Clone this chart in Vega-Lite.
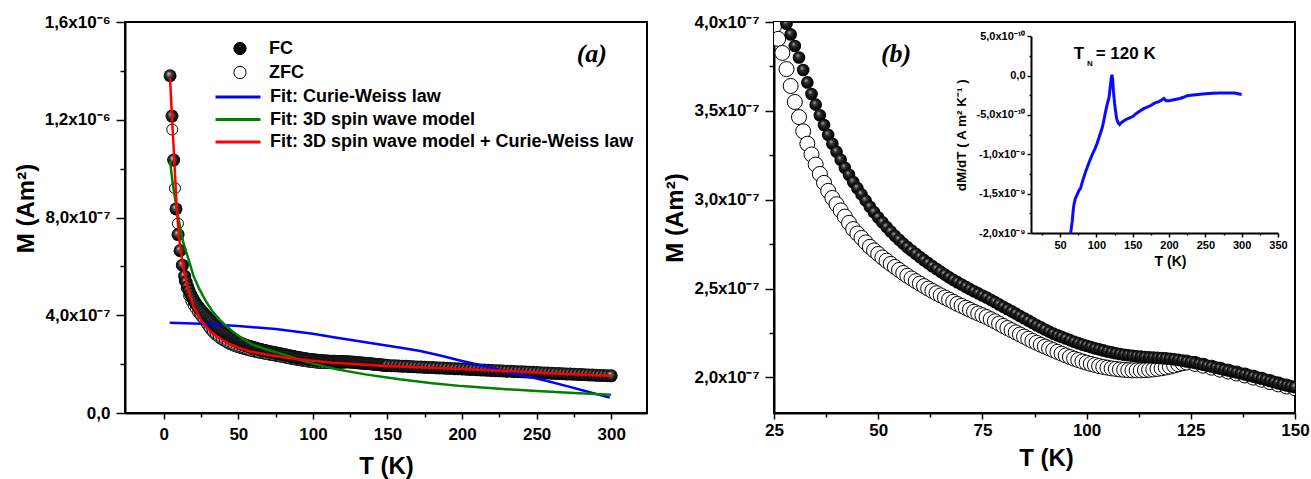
{
"$schema": "https://vega.github.io/schema/vega-lite/v6.json",
"padding": {"left": 13, "top": 12, "right": 2, "bottom": 0},
"background": "white",
"config": {
  "font": "Liberation Sans",
  "view": {"stroke": "black", "strokeWidth": 2},
  "axis": {"grid": false, "domainColor": "black", "domainWidth": 2, "tickColor": "black", "tickWidth": 1.5, "labelColor": "black", "titleColor": "black", "labelFont": "Liberation Sans", "labelFontWeight": "bold", "labelFontSize": 17, "titleFont": "Liberation Sans", "titleFontWeight": "bold", "titleFontSize": 24, "labelFlush": false, "labelOverlap": false, "labelBound": false},
  "legend": {"labelFont": "Liberation Sans", "labelFontWeight": "bold", "labelFontSize": 18, "labelColor": "black", "padding": 0, "labelLimit": 600}
},
"datasets": {
  "m": [
    {"s":"FC","T":4.2,"M":13.8e-7},{"s":"FC","T":5.5,"M":12.15e-7},{"s":"FC","T":6.6,"M":10.35e-7},{"s":"FC","T":8.2,"M":8.35e-7},{"s":"FC","T":9.6,"M":7.3e-7},{"s":"FC","T":11,"M":6.65e-7},{"s":"FC","T":12.5,"M":6.05e-7},{"s":"FC","T":14,"M":5.6e-7},{"s":"FC","T":15,"M":5.36e-7},{"s":"FC","T":16,"M":5.17e-7},{"s":"FC","T":17,"M":5.0e-7},{"s":"FC","T":18,"M":4.86e-7},{"s":"FC","T":19,"M":4.73e-7},{"s":"FC","T":20,"M":4.62e-7},{"s":"FC","T":21,"M":4.52e-7},{"s":"FC","T":22,"M":4.43e-7},{"s":"FC","T":23,"M":4.35e-7},{"s":"FC","T":24,"M":4.27e-7},{"s":"FC","T":25,"M":4.2e-7},{"s":"FC","T":26,"M":4.13e-7},{"s":"FC","T":27,"M":4.06e-7},{"s":"FC","T":28,"M":3.99e-7},{"s":"FC","T":29,"M":3.93e-7},{"s":"FC","T":30,"M":3.865e-7},{"s":"FC","T":31,"M":3.8e-7},{"s":"FC","T":32,"M":3.73e-7},{"s":"FC","T":33,"M":3.66e-7},{"s":"FC","T":34,"M":3.595e-7},{"s":"FC","T":35,"M":3.535e-7},{"s":"FC","T":36,"M":3.475e-7},{"s":"FC","T":37,"M":3.42e-7},{"s":"FC","T":38,"M":3.365e-7},{"s":"FC","T":39,"M":3.315e-7},{"s":"FC","T":40,"M":3.27e-7},{"s":"FC","T":41,"M":3.225e-7},{"s":"FC","T":42,"M":3.18e-7},{"s":"FC","T":43,"M":3.14e-7},{"s":"FC","T":44,"M":3.1e-7},{"s":"FC","T":45,"M":3.065e-7},{"s":"FC","T":46,"M":3.03e-7},{"s":"FC","T":47,"M":2.995e-7},{"s":"FC","T":48,"M":2.96e-7},{"s":"FC","T":49,"M":2.93e-7},{"s":"FC","T":50,"M":2.9e-7},{"s":"FC","T":51,"M":2.873e-7},{"s":"FC","T":52,"M":2.846e-7},{"s":"FC","T":53,"M":2.821e-7},{"s":"FC","T":54,"M":2.797e-7},{"s":"FC","T":55,"M":2.775e-7},{"s":"FC","T":56,"M":2.753e-7},{"s":"FC","T":57,"M":2.733e-7},{"s":"FC","T":58,"M":2.714e-7},{"s":"FC","T":59,"M":2.696e-7},{"s":"FC","T":60,"M":2.678e-7},{"s":"FC","T":61,"M":2.66e-7},{"s":"FC","T":62,"M":2.643e-7},{"s":"FC","T":63,"M":2.626e-7},{"s":"FC","T":64,"M":2.61e-7},{"s":"FC","T":65,"M":2.594e-7},{"s":"FC","T":66,"M":2.579e-7},{"s":"FC","T":67,"M":2.564e-7},{"s":"FC","T":68,"M":2.55e-7},{"s":"FC","T":69,"M":2.536e-7},{"s":"FC","T":70,"M":2.523e-7},{"s":"FC","T":71,"M":2.51e-7},{"s":"FC","T":72,"M":2.497e-7},{"s":"FC","T":73,"M":2.485e-7},{"s":"FC","T":74,"M":2.473e-7},{"s":"FC","T":75,"M":2.461e-7},{"s":"FC","T":76,"M":2.45e-7},{"s":"FC","T":77,"M":2.437e-7},{"s":"FC","T":78,"M":2.424e-7},{"s":"FC","T":79,"M":2.411e-7},{"s":"FC","T":80,"M":2.398e-7},{"s":"FC","T":81,"M":2.385e-7},{"s":"FC","T":82,"M":2.372e-7},{"s":"FC","T":83,"M":2.359e-7},{"s":"FC","T":84,"M":2.346e-7},{"s":"FC","T":85,"M":2.333e-7},{"s":"FC","T":86,"M":2.32e-7},{"s":"FC","T":87,"M":2.307e-7},{"s":"FC","T":88,"M":2.294e-7},{"s":"FC","T":89,"M":2.282e-7},{"s":"FC","T":90,"M":2.27e-7},{"s":"FC","T":91,"M":2.258e-7},{"s":"FC","T":92,"M":2.247e-7},{"s":"FC","T":93,"M":2.237e-7},{"s":"FC","T":94,"M":2.228e-7},{"s":"FC","T":95,"M":2.219e-7},{"s":"FC","T":96,"M":2.21e-7},{"s":"FC","T":97,"M":2.201e-7},{"s":"FC","T":98,"M":2.193e-7},{"s":"FC","T":99,"M":2.185e-7},{"s":"FC","T":100,"M":2.178e-7},{"s":"FC","T":101,"M":2.171e-7},{"s":"FC","T":102,"M":2.164e-7},{"s":"FC","T":103,"M":2.158e-7},{"s":"FC","T":104,"M":2.152e-7},{"s":"FC","T":105,"M":2.146e-7},{"s":"FC","T":106,"M":2.141e-7},{"s":"FC","T":107,"M":2.136e-7},{"s":"FC","T":108,"M":2.132e-7},{"s":"FC","T":109,"M":2.128e-7},{"s":"FC","T":110,"M":2.125e-7},{"s":"FC","T":111,"M":2.122e-7},{"s":"FC","T":112,"M":2.119e-7},{"s":"FC","T":113,"M":2.117e-7},{"s":"FC","T":114,"M":2.115e-7},{"s":"FC","T":115,"M":2.113e-7},{"s":"FC","T":116,"M":2.112e-7},{"s":"FC","T":117,"M":2.111e-7},{"s":"FC","T":118,"M":2.109e-7},{"s":"FC","T":119,"M":2.107e-7},{"s":"FC","T":120,"M":2.105e-7},{"s":"FC","T":121,"M":2.102e-7},{"s":"FC","T":122,"M":2.099e-7},{"s":"FC","T":123,"M":2.095e-7},{"s":"FC","T":124,"M":2.09e-7},{"s":"FC","T":125,"M":2.086e-7},{"s":"FC","T":126,"M":2.082e-7},{"s":"FC","T":127,"M":2.077e-7},{"s":"FC","T":128,"M":2.072e-7},{"s":"FC","T":129,"M":2.066e-7},{"s":"FC","T":130,"M":2.061e-7},{"s":"FC","T":131,"M":2.055e-7},{"s":"FC","T":132,"M":2.05e-7},{"s":"FC","T":133,"M":2.044e-7},{"s":"FC","T":134,"M":2.039e-7},{"s":"FC","T":135,"M":2.033e-7},{"s":"FC","T":136,"M":2.028e-7},{"s":"FC","T":137,"M":2.022e-7},{"s":"FC","T":138,"M":2.017e-7},{"s":"FC","T":139,"M":2.011e-7},{"s":"FC","T":140,"M":2.005e-7},{"s":"FC","T":141,"M":1.999e-7},{"s":"FC","T":142,"M":1.993e-7},{"s":"FC","T":143,"M":1.987e-7},{"s":"FC","T":144,"M":1.98e-7},{"s":"FC","T":145,"M":1.974e-7},{"s":"FC","T":146,"M":1.967e-7},{"s":"FC","T":147,"M":1.961e-7},{"s":"FC","T":148,"M":1.955e-7},{"s":"FC","T":149,"M":1.95e-7},{"s":"FC","T":150,"M":1.945e-7},{"s":"FC","T":152.5,"M":1.938e-7},{"s":"FC","T":155,"M":1.93e-7},{"s":"FC","T":157.5,"M":1.923e-7},{"s":"FC","T":160,"M":1.915e-7},{"s":"FC","T":162.5,"M":1.908e-7},{"s":"FC","T":165,"M":1.9e-7},{"s":"FC","T":167.5,"M":1.893e-7},{"s":"FC","T":170,"M":1.885e-7},{"s":"FC","T":172.5,"M":1.878e-7},{"s":"FC","T":175,"M":1.87e-7},{"s":"FC","T":177.5,"M":1.864e-7},{"s":"FC","T":180,"M":1.857e-7},{"s":"FC","T":182.5,"M":1.85e-7},{"s":"FC","T":185,"M":1.843e-7},{"s":"FC","T":187.5,"M":1.837e-7},{"s":"FC","T":190,"M":1.83e-7},{"s":"FC","T":192.5,"M":1.822e-7},{"s":"FC","T":195,"M":1.815e-7},{"s":"FC","T":197.5,"M":1.808e-7},{"s":"FC","T":200,"M":1.8e-7},{"s":"FC","T":202.5,"M":1.793e-7},{"s":"FC","T":205,"M":1.785e-7},{"s":"FC","T":207.5,"M":1.778e-7},{"s":"FC","T":210,"M":1.77e-7},{"s":"FC","T":212.5,"M":1.763e-7},{"s":"FC","T":215,"M":1.755e-7},{"s":"FC","T":217.5,"M":1.748e-7},{"s":"FC","T":220,"M":1.74e-7},{"s":"FC","T":222.5,"M":1.733e-7},{"s":"FC","T":225,"M":1.725e-7},{"s":"FC","T":227.5,"M":1.718e-7},{"s":"FC","T":230,"M":1.71e-7},{"s":"FC","T":232.5,"M":1.704e-7},{"s":"FC","T":235,"M":1.697e-7},{"s":"FC","T":237.5,"M":1.69e-7},{"s":"FC","T":240,"M":1.683e-7},{"s":"FC","T":242.5,"M":1.677e-7},{"s":"FC","T":245,"M":1.67e-7},{"s":"FC","T":247.5,"M":1.663e-7},{"s":"FC","T":250,"M":1.655e-7},{"s":"FC","T":252.5,"M":1.648e-7},{"s":"FC","T":255,"M":1.64e-7},{"s":"FC","T":257.5,"M":1.634e-7},{"s":"FC","T":260,"M":1.628e-7},{"s":"FC","T":262.5,"M":1.621e-7},{"s":"FC","T":265,"M":1.614e-7},{"s":"FC","T":267.5,"M":1.607e-7},{"s":"FC","T":270,"M":1.6e-7},{"s":"FC","T":272.5,"M":1.594e-7},{"s":"FC","T":275,"M":1.587e-7},{"s":"FC","T":277.5,"M":1.58e-7},{"s":"FC","T":280,"M":1.573e-7},{"s":"FC","T":282.5,"M":1.567e-7},{"s":"FC","T":285,"M":1.56e-7},{"s":"FC","T":287.5,"M":1.553e-7},{"s":"FC","T":290,"M":1.546e-7},{"s":"FC","T":292.5,"M":1.539e-7},{"s":"FC","T":295,"M":1.532e-7},{"s":"FC","T":297.5,"M":1.526e-7},{"s":"FC","T":300,"M":1.52e-7},
    {"s":"ZFC","T":5.7,"M":11.6e-7},{"s":"ZFC","T":7.5,"M":9.2e-7},{"s":"ZFC","T":9.5,"M":7.75e-7},{"s":"ZFC","T":10.7,"M":6.63e-7},{"s":"ZFC","T":12.3,"M":6.05e-7},{"s":"ZFC","T":14.2,"M":5.4e-7},{"s":"ZFC","T":15.5,"M":5.1e-7},{"s":"ZFC","T":17,"M":4.8e-7},{"s":"ZFC","T":18.5,"M":4.58e-7},{"s":"ZFC","T":20,"M":4.41e-7},{"s":"ZFC","T":21.5,"M":4.27e-7},{"s":"ZFC","T":23,"M":4.13e-7},{"s":"ZFC","T":24,"M":4.05e-7},{"s":"ZFC","T":25,"M":3.976e-7},{"s":"ZFC","T":26,"M":3.905e-7},{"s":"ZFC","T":27,"M":3.826e-7},{"s":"ZFC","T":28,"M":3.735e-7},{"s":"ZFC","T":29,"M":3.64e-7},{"s":"ZFC","T":30,"M":3.55e-7},{"s":"ZFC","T":31,"M":3.465e-7},{"s":"ZFC","T":32,"M":3.385e-7},{"s":"ZFC","T":33,"M":3.315e-7},{"s":"ZFC","T":34,"M":3.255e-7},{"s":"ZFC","T":35,"M":3.198e-7},{"s":"ZFC","T":36,"M":3.145e-7},{"s":"ZFC","T":37,"M":3.095e-7},{"s":"ZFC","T":38,"M":3.05e-7},{"s":"ZFC","T":39,"M":3.01e-7},{"s":"ZFC","T":40,"M":2.975e-7},{"s":"ZFC","T":41,"M":2.94e-7},{"s":"ZFC","T":42,"M":2.905e-7},{"s":"ZFC","T":43,"M":2.87e-7},{"s":"ZFC","T":44,"M":2.835e-7},{"s":"ZFC","T":45,"M":2.81e-7},{"s":"ZFC","T":46,"M":2.785e-7},{"s":"ZFC","T":47,"M":2.76e-7},{"s":"ZFC","T":48,"M":2.735e-7},{"s":"ZFC","T":49,"M":2.715e-7},{"s":"ZFC","T":50,"M":2.695e-7},{"s":"ZFC","T":51,"M":2.675e-7},{"s":"ZFC","T":52,"M":2.657e-7},{"s":"ZFC","T":53,"M":2.639e-7},{"s":"ZFC","T":54,"M":2.622e-7},{"s":"ZFC","T":55,"M":2.605e-7},{"s":"ZFC","T":56,"M":2.588e-7},{"s":"ZFC","T":57,"M":2.572e-7},{"s":"ZFC","T":58,"M":2.557e-7},{"s":"ZFC","T":59,"M":2.542e-7},{"s":"ZFC","T":60,"M":2.528e-7},{"s":"ZFC","T":61,"M":2.514e-7},{"s":"ZFC","T":62,"M":2.5e-7},{"s":"ZFC","T":63,"M":2.487e-7},{"s":"ZFC","T":64,"M":2.474e-7},{"s":"ZFC","T":65,"M":2.462e-7},{"s":"ZFC","T":66,"M":2.45e-7},{"s":"ZFC","T":67,"M":2.438e-7},{"s":"ZFC","T":68,"M":2.426e-7},{"s":"ZFC","T":69,"M":2.414e-7},{"s":"ZFC","T":70,"M":2.403e-7},{"s":"ZFC","T":71,"M":2.392e-7},{"s":"ZFC","T":72,"M":2.381e-7},{"s":"ZFC","T":73,"M":2.37e-7},{"s":"ZFC","T":74,"M":2.36e-7},{"s":"ZFC","T":75,"M":2.35e-7},{"s":"ZFC","T":76,"M":2.34e-7},{"s":"ZFC","T":77,"M":2.328e-7},{"s":"ZFC","T":78,"M":2.316e-7},{"s":"ZFC","T":79,"M":2.303e-7},{"s":"ZFC","T":80,"M":2.29e-7},{"s":"ZFC","T":81,"M":2.278e-7},{"s":"ZFC","T":82,"M":2.266e-7},{"s":"ZFC","T":83,"M":2.254e-7},{"s":"ZFC","T":84,"M":2.242e-7},{"s":"ZFC","T":85,"M":2.23e-7},{"s":"ZFC","T":86,"M":2.218e-7},{"s":"ZFC","T":87,"M":2.206e-7},{"s":"ZFC","T":88,"M":2.195e-7},{"s":"ZFC","T":89,"M":2.184e-7},{"s":"ZFC","T":90,"M":2.174e-7},{"s":"ZFC","T":91,"M":2.164e-7},{"s":"ZFC","T":92,"M":2.154e-7},{"s":"ZFC","T":93,"M":2.144e-7},{"s":"ZFC","T":94,"M":2.134e-7},{"s":"ZFC","T":95,"M":2.124e-7},{"s":"ZFC","T":96,"M":2.115e-7},{"s":"ZFC","T":97,"M":2.106e-7},{"s":"ZFC","T":98,"M":2.098e-7},{"s":"ZFC","T":99,"M":2.09e-7},{"s":"ZFC","T":100,"M":2.083e-7},{"s":"ZFC","T":101,"M":2.076e-7},{"s":"ZFC","T":102,"M":2.07e-7},{"s":"ZFC","T":103,"M":2.064e-7},{"s":"ZFC","T":104,"M":2.059e-7},{"s":"ZFC","T":105,"M":2.055e-7},{"s":"ZFC","T":106,"M":2.051e-7},{"s":"ZFC","T":107,"M":2.048e-7},{"s":"ZFC","T":108,"M":2.045e-7},{"s":"ZFC","T":109,"M":2.043e-7},{"s":"ZFC","T":110,"M":2.041e-7},{"s":"ZFC","T":111,"M":2.04e-7},{"s":"ZFC","T":112,"M":2.04e-7},{"s":"ZFC","T":113,"M":2.04e-7},{"s":"ZFC","T":114,"M":2.041e-7},{"s":"ZFC","T":115,"M":2.043e-7},{"s":"ZFC","T":116,"M":2.045e-7},{"s":"ZFC","T":117,"M":2.048e-7},{"s":"ZFC","T":118,"M":2.052e-7},{"s":"ZFC","T":119,"M":2.056e-7},{"s":"ZFC","T":120,"M":2.061e-7},{"s":"ZFC","T":121,"M":2.067e-7},{"s":"ZFC","T":122,"M":2.074e-7},{"s":"ZFC","T":123,"M":2.08e-7},{"s":"ZFC","T":124,"M":2.084e-7},{"s":"ZFC","T":126,"M":2.076e-7},{"s":"ZFC","T":128,"M":2.066e-7},{"s":"ZFC","T":130,"M":2.055e-7},{"s":"ZFC","T":132,"M":2.044e-7},{"s":"ZFC","T":134,"M":2.033e-7},{"s":"ZFC","T":136,"M":2.022e-7},{"s":"ZFC","T":138,"M":2.011e-7},{"s":"ZFC","T":140,"M":1.999e-7},{"s":"ZFC","T":142,"M":1.987e-7},{"s":"ZFC","T":144,"M":1.974e-7},{"s":"ZFC","T":146,"M":1.961e-7},{"s":"ZFC","T":148,"M":1.949e-7},{"s":"ZFC","T":150,"M":1.939e-7},{"s":"ZFC","T":155,"M":1.92e-7},{"s":"ZFC","T":160,"M":1.905e-7},{"s":"ZFC","T":165,"M":1.89e-7},{"s":"ZFC","T":170,"M":1.875e-7},{"s":"ZFC","T":175,"M":1.86e-7},{"s":"ZFC","T":180,"M":1.847e-7},{"s":"ZFC","T":185,"M":1.833e-7},{"s":"ZFC","T":190,"M":1.82e-7},{"s":"ZFC","T":195,"M":1.805e-7},{"s":"ZFC","T":200,"M":1.79e-7},{"s":"ZFC","T":210,"M":1.76e-7},{"s":"ZFC","T":220,"M":1.73e-7},{"s":"ZFC","T":230,"M":1.7e-7},{"s":"ZFC","T":240,"M":1.673e-7},{"s":"ZFC","T":250,"M":1.645e-7},{"s":"ZFC","T":260,"M":1.618e-7},{"s":"ZFC","T":270,"M":1.59e-7},{"s":"ZFC","T":280,"M":1.563e-7},{"s":"ZFC","T":290,"M":1.536e-7},{"s":"ZFC","T":300,"M":1.51e-7}
  ],
  "fits": [
    {"f":"Fit: Curie-Weiss law","T":4,"M":3.69e-7},{"f":"Fit: Curie-Weiss law","T":25,"M":3.65e-7},{"f":"Fit: Curie-Weiss law","T":50,"M":3.56e-7},{"f":"Fit: Curie-Weiss law","T":75,"M":3.44e-7},{"f":"Fit: Curie-Weiss law","T":100,"M":3.24e-7},{"f":"Fit: Curie-Weiss law","T":115,"M":3.09e-7},{"f":"Fit: Curie-Weiss law","T":130,"M":2.95e-7},{"f":"Fit: Curie-Weiss law","T":145,"M":2.8e-7},{"f":"Fit: Curie-Weiss law","T":160,"M":2.66e-7},{"f":"Fit: Curie-Weiss law","T":172,"M":2.54e-7},{"f":"Fit: Curie-Weiss law","T":186,"M":2.34e-7},{"f":"Fit: Curie-Weiss law","T":200,"M":2.13e-7},{"f":"Fit: Curie-Weiss law","T":214,"M":1.93e-7},{"f":"Fit: Curie-Weiss law","T":228,"M":1.72e-7},{"f":"Fit: Curie-Weiss law","T":242,"M":1.52e-7},{"f":"Fit: Curie-Weiss law","T":257,"M":1.31e-7},{"f":"Fit: Curie-Weiss law","T":271,"M":1.09e-7},{"f":"Fit: Curie-Weiss law","T":285,"M":0.86e-7},{"f":"Fit: Curie-Weiss law","T":299,"M":0.63e-7},
    {"f":"Fit: 3D spin wave model","T":4.2,"M":10.3e-7},{"f":"Fit: 3D spin wave model","T":6,"M":9.4e-7},{"f":"Fit: 3D spin wave model","T":8,"M":8.6e-7},{"f":"Fit: 3D spin wave model","T":10,"M":7.9e-7},{"f":"Fit: 3D spin wave model","T":13,"M":7.0e-7},{"f":"Fit: 3D spin wave model","T":17,"M":6.2e-7},{"f":"Fit: 3D spin wave model","T":20,"M":5.6e-7},{"f":"Fit: 3D spin wave model","T":23.6,"M":5.1e-7},{"f":"Fit: 3D spin wave model","T":28,"M":4.6e-7},{"f":"Fit: 3D spin wave model","T":32.5,"M":4.17e-7},{"f":"Fit: 3D spin wave model","T":38,"M":3.78e-7},{"f":"Fit: 3D spin wave model","T":46,"M":3.35e-7},{"f":"Fit: 3D spin wave model","T":52,"M":3.08e-7},{"f":"Fit: 3D spin wave model","T":59,"M":2.81e-7},{"f":"Fit: 3D spin wave model","T":70,"M":2.58e-7},{"f":"Fit: 3D spin wave model","T":80,"M":2.4e-7},{"f":"Fit: 3D spin wave model","T":90,"M":2.2e-7},{"f":"Fit: 3D spin wave model","T":102,"M":1.99e-7},{"f":"Fit: 3D spin wave model","T":115,"M":1.8e-7},{"f":"Fit: 3D spin wave model","T":135,"M":1.58e-7},{"f":"Fit: 3D spin wave model","T":158,"M":1.38e-7},{"f":"Fit: 3D spin wave model","T":180,"M":1.22e-7},{"f":"Fit: 3D spin wave model","T":200,"M":1.1e-7},{"f":"Fit: 3D spin wave model","T":225,"M":0.99e-7},{"f":"Fit: 3D spin wave model","T":250,"M":0.9e-7},{"f":"Fit: 3D spin wave model","T":275,"M":0.82e-7},{"f":"Fit: 3D spin wave model","T":300,"M":0.75e-7},
    {"f":"Fit: 3D spin wave model + Curie-Weiss law","T":4.2,"M":13.7e-7},{"f":"Fit: 3D spin wave model + Curie-Weiss law","T":5.7,"M":11.9e-7},{"f":"Fit: 3D spin wave model + Curie-Weiss law","T":7.1,"M":10.3e-7},{"f":"Fit: 3D spin wave model + Curie-Weiss law","T":8.7,"M":8.4e-7},{"f":"Fit: 3D spin wave model + Curie-Weiss law","T":10.2,"M":7.2e-7},{"f":"Fit: 3D spin wave model + Curie-Weiss law","T":12.4,"M":6.2e-7},{"f":"Fit: 3D spin wave model + Curie-Weiss law","T":15.4,"M":5.26e-7},{"f":"Fit: 3D spin wave model + Curie-Weiss law","T":20,"M":4.35e-7},{"f":"Fit: 3D spin wave model + Curie-Weiss law","T":25,"M":3.8e-7},{"f":"Fit: 3D spin wave model + Curie-Weiss law","T":28,"M":3.56e-7},{"f":"Fit: 3D spin wave model + Curie-Weiss law","T":32,"M":3.3e-7},{"f":"Fit: 3D spin wave model + Curie-Weiss law","T":37,"M":3.08e-7},{"f":"Fit: 3D spin wave model + Curie-Weiss law","T":43,"M":2.86e-7},{"f":"Fit: 3D spin wave model + Curie-Weiss law","T":50,"M":2.67e-7},{"f":"Fit: 3D spin wave model + Curie-Weiss law","T":58,"M":2.52e-7},{"f":"Fit: 3D spin wave model + Curie-Weiss law","T":68,"M":2.4e-7},{"f":"Fit: 3D spin wave model + Curie-Weiss law","T":80,"M":2.28e-7},{"f":"Fit: 3D spin wave model + Curie-Weiss law","T":90,"M":2.2e-7},{"f":"Fit: 3D spin wave model + Curie-Weiss law","T":100,"M":2.14e-7},{"f":"Fit: 3D spin wave model + Curie-Weiss law","T":113,"M":2.06e-7},{"f":"Fit: 3D spin wave model + Curie-Weiss law","T":130,"M":1.99e-7},{"f":"Fit: 3D spin wave model + Curie-Weiss law","T":146,"M":1.93e-7},{"f":"Fit: 3D spin wave model + Curie-Weiss law","T":175,"M":1.86e-7},{"f":"Fit: 3D spin wave model + Curie-Weiss law","T":200,"M":1.8e-7},{"f":"Fit: 3D spin wave model + Curie-Weiss law","T":225,"M":1.73e-7},{"f":"Fit: 3D spin wave model + Curie-Weiss law","T":250,"M":1.66e-7},{"f":"Fit: 3D spin wave model + Curie-Weiss law","T":275,"M":1.59e-7},{"f":"Fit: 3D spin wave model + Curie-Weiss law","T":300,"M":1.52e-7}
  ],
  "dmdt": [
    {"T":64.6,"v":-20.0e-10},{"T":66,"v":-19.0e-10},{"T":66.8,"v":-18.5e-10},{"T":68,"v":-17.2e-10},{"T":69.1,"v":-16.4e-10},{"T":71,"v":-15.6e-10},{"T":73.7,"v":-15.1e-10},{"T":76,"v":-14.6e-10},{"T":78.3,"v":-14.3e-10},{"T":81,"v":-13.4e-10},{"T":85.2,"v":-12.2e-10},{"T":90,"v":-11.0e-10},{"T":94.4,"v":-10.0e-10},{"T":98,"v":-9.3e-10},{"T":101,"v":-8.6e-10},{"T":103.6,"v":-7.9e-10},{"T":106,"v":-7.2e-10},{"T":108.1,"v":-6.6e-10},{"T":110,"v":-5.8e-10},{"T":112.8,"v":-4.5e-10},{"T":115,"v":-3.6e-10},{"T":117.4,"v":-2.8e-10},{"T":119,"v":-1.5e-10},{"T":120.5,"v":-0.3e-10},{"T":121.5,"v":0.1e-10},{"T":122.5,"v":-0.5e-10},{"T":123.5,"v":-2.0e-10},{"T":125,"v":-3.5e-10},{"T":126.5,"v":-4.6e-10},{"T":128,"v":-5.5e-10},{"T":130,"v":-6.0e-10},{"T":132,"v":-6.2e-10},{"T":134,"v":-6.0e-10},{"T":137,"v":-5.8e-10},{"T":140,"v":-5.6e-10},{"T":145,"v":-5.4e-10},{"T":150,"v":-5.2e-10},{"T":155,"v":-4.8e-10},{"T":160,"v":-4.5e-10},{"T":165,"v":-4.2e-10},{"T":170,"v":-4.0e-10},{"T":175,"v":-3.8e-10},{"T":180,"v":-3.5e-10},{"T":186,"v":-3.3e-10},{"T":190,"v":-3.1e-10},{"T":193,"v":-2.9e-10},{"T":196,"v":-3.2e-10},{"T":200,"v":-3.2e-10},{"T":205,"v":-3.1e-10},{"T":210,"v":-3.0e-10},{"T":215,"v":-2.9e-10},{"T":220,"v":-2.75e-10},{"T":225,"v":-2.55e-10},{"T":230,"v":-2.5e-10},{"T":240,"v":-2.4e-10},{"T":250,"v":-2.3e-10},{"T":260,"v":-2.25e-10},{"T":270,"v":-2.2e-10},{"T":280,"v":-2.2e-10},{"T":290,"v":-2.2e-10},{"T":295,"v":-2.3e-10},{"T":300,"v":-2.4e-10}
  ]
},
"spacing": 14,
"hconcat": [
  {
    "width": 522, "height": 391,
    "encoding": {
      "x": {"field": "T", "type": "quantitative", "scale": {"domain": [-26, 324], "nice": false, "zero": false},
        "axis": {"title": "T (K)", "values": [0,25,50,75,100,125,150,175,200,225,250,275,300], "labelExpr": "datum.value % 50 == 0 ? '' + datum.value : ''", "tickSize": {"condition": {"test": "datum.value % 50 != 0", "value": 4}, "value": 6}, "labelPadding": 7, "titlePadding": 12}},
      "y": {"field": "M", "type": "quantitative", "scale": {"domain": [0, 1.6e-6], "nice": false},
        "axis": {"title": "M (Am²)", "values": [0,2e-7,4e-7,6e-7,8e-7,1e-6,1.2e-6,1.4e-6,1.6e-6], "labelExpr": "round(datum.value*1e7) == 0 ? '0,0' : round(datum.value*1e7) % 4 != 0 ? '' : round(datum.value*1e7) < 10 ? round(datum.value*1e7) + ',0x10⁻⁷' : floor(round(datum.value*1e7)/10) + ',' + (round(datum.value*1e7) % 10) + 'x10⁻⁶'", "tickSize": {"condition": {"test": "round(datum.value*1e7) % 4 != 0", "value": 5}, "value": 9}, "labelPadding": 6, "titlePadding": 6, "titleY": 186}}
    },
    "layer": [
      {"data": {"name": "m"}, "transform": [{"filter": "datum.s == 'ZFC'"}],
       "mark": {"type": "point", "shape": "circle", "filled": true, "stroke": "black", "strokeWidth": 1, "size": 121, "opacity": 1},
       "encoding": {"fill": {"field": "s", "type": "nominal", "scale": {"domain": ["FC", "ZFC"], "range": ["black", "white"]},
         "legend": {"orient": "none", "legendX": 106, "legendY": 17.5, "title": null, "labelOffset": 20, "symbolType": "circle", "symbolSize": 150, "rowPadding": 6, "symbolStrokeColor": "black", "symbolStrokeWidth": 1}}}},
      {"data": {"name": "m"}, "transform": [{"filter": "datum.s == 'FC'"}],
       "mark": {"type": "point", "shape": "circle", "filled": true, "size": 169, "opacity": 1, "strokeWidth": 0,
         "fill": {"gradient": "radial", "x1": 0.38, "y1": 0.32, "r1": 0, "x2": 0.5, "y2": 0.5, "r2": 0.55, "stops": [{"offset": 0, "color": "#e6e6e6"}, {"offset": 0.3, "color": "#555555"}, {"offset": 0.7, "color": "#111111"}, {"offset": 1, "color": "#000000"}]}}},
      {"data": {"name": "fits"},
       "mark": {"type": "line", "strokeWidth": 2.5},
       "encoding": {"stroke": {"field": "f", "type": "nominal", "sort": null,
         "scale": {"domain": ["Fit: Curie-Weiss law", "Fit: 3D spin wave model", "Fit: 3D spin wave model + Curie-Weiss law"], "range": ["#0000ff", "#008000", "#ff0000"]},
         "legend": {"orient": "none", "legendX": 104, "legendY": 66, "title": null, "symbolType": "M-3,0H3", "symbolSize": 225, "symbolStrokeWidth": 3, "symbolFillColor": "transparent", "labelOffset": 23, "rowPadding": 4.5}}}},
      {"data": {"values": [{"lbl": "(a)", "p": 287, "q": 1.468e-6}]},
       "mark": {"type": "text", "font": "Liberation Serif", "fontStyle": "italic", "fontWeight": "bold", "fontSize": 26, "align": "center", "baseline": "middle", "fill": "black"},
       "encoding": {"text": {"field": "lbl", "type": "nominal"}, "x": {"field": "p", "type": "quantitative"}, "y": {"field": "q", "type": "quantitative"}}}
    ]
  },
  {
    "width": 521, "height": 391,
    "layer": [
      {
        "encoding": {
          "x": {"field": "T", "type": "quantitative", "scale": {"domain": [25, 150], "nice": false, "zero": false},
            "axis": {"title": "T (K)", "values": [25,37.5,50,62.5,75,87.5,100,112.5,125,137.5,150], "labelExpr": "datum.value % 25 == 0 ? '' + datum.value : ''", "tickSize": {"condition": {"test": "datum.value % 25 != 0", "value": 4}, "value": 6}, "labelPadding": 3, "titlePadding": 8, "titleX": 272}},
          "y": {"field": "M", "type": "quantitative", "scale": {"domain": [1.8e-7, 4.0e-7], "nice": false, "zero": false},
            "axis": {"title": "M (Am²)", "values": [2e-7,2.25e-7,2.5e-7,2.75e-7,3e-7,3.25e-7,3.5e-7,3.75e-7,4e-7], "labelExpr": "round(datum.value*1e9) % 50 != 0 ? '' : floor(round(datum.value*1e9)/100) + ',' + (round(datum.value*1e9) % 100)/10 + 'x10⁻⁷'", "tickSize": {"condition": {"test": "round(datum.value*1e9) % 50 != 0", "value": 5}, "value": 9}, "labelPadding": 6, "titlePadding": 6}}
        },
        "layer": [
          {"data": {"name": "m"}, "transform": [{"filter": "datum.s == 'ZFC'"}],
           "mark": {"type": "point", "shape": "circle", "filled": true, "fill": "white", "stroke": "black", "strokeWidth": 1, "size": 225, "opacity": 1, "clip": true}},
          {"data": {"name": "m"}, "transform": [{"filter": "datum.s == 'FC'"}],
           "mark": {"type": "point", "shape": "circle", "filled": true, "size": 160, "opacity": 1, "strokeWidth": 0, "clip": true,
             "fill": {"gradient": "radial", "x1": 0.38, "y1": 0.32, "r1": 0, "x2": 0.5, "y2": 0.5, "r2": 0.55, "stops": [{"offset": 0, "color": "#bbbbbb"}, {"offset": 0.3, "color": "#333333"}, {"offset": 0.7, "color": "#0a0a0a"}, {"offset": 1, "color": "#000000"}]}}},
          {"data": {"values": [{"lbl": "(b)", "p": 54.3, "q": 3.818e-7}]},
           "mark": {"type": "text", "font": "Liberation Serif", "fontStyle": "italic", "fontWeight": "bold", "fontSize": 26, "align": "center", "baseline": "middle", "fill": "black"},
           "encoding": {"text": {"field": "lbl", "type": "nominal"}, "x": {"field": "p", "type": "quantitative"}, "y": {"field": "q", "type": "quantitative"}}}
        ]
      },
      {
        "encoding": {
          "x": {"field": "T", "type": "quantitative", "scale": {"domain": [10, 350], "range": [257, 504], "nice": false, "zero": false},
            "axis": {"orient": "bottom", "offset": -180, "title": "T (K)", "values": [25,50,75,100,125,150,175,200,225,250,275,300,325,350], "labelExpr": "datum.value % 50 == 0 ? '' + datum.value : ''", "tickSize": {"condition": {"test": "datum.value % 50 != 0", "value": 2}, "value": 4}, "labelPadding": 2, "labelFontSize": 11, "titleFontSize": 14, "titlePadding": 4, "titleX": 396}},
          "y": {"field": "v", "type": "quantitative", "scale": {"domain": [-2e-9, 5e-10], "range": [211, 14.3], "nice": false, "zero": false},
            "axis": {"orient": "left", "offset": -257, "title": "dM/dT ( A m² K⁻¹ )", "values": [-2e-9,-1.75e-9,-1.5e-9,-1.25e-9,-1e-9,-7.5e-10,-5e-10,-2.5e-10,0,2.5e-10,5e-10], "labelExpr": "round(datum.value*1e11) == 50 ? '5,0x10⁻¹⁰' : round(datum.value*1e11) == 0 ? '0,0' : round(datum.value*1e11) == -50 ? '-5,0x10⁻¹⁰' : round(datum.value*1e11) == -100 ? '-1,0x10⁻⁹' : round(datum.value*1e11) == -150 ? '-1,5x10⁻⁹' : round(datum.value*1e11) == -200 ? '-2,0x10⁻⁹' : ''", "tickSize": {"condition": {"test": "round(datum.value*1e11) % 50 != 0", "value": 2}, "value": 4}, "labelPadding": 2, "labelFontSize": 11, "titleFontSize": 13.5, "titlePadding": 8}}
        },
        "layer": [
          {"data": {"values": [{}]},
           "mark": {"type": "rect", "fill": "white", "fillOpacity": 0, "stroke": "black", "strokeWidth": 2},
           "encoding": {"x": {"datum": 10, "type": "quantitative"}, "x2": {"datum": 350}, "y": {"datum": -2e-9, "type": "quantitative"}, "y2": {"datum": 5e-10}}},
          {"data": {"name": "dmdt"},
           "mark": {"type": "line", "color": "#0a0aff", "strokeWidth": 3}},
          {"data": {"values": [{"lbl": "T", "p": 69, "q": 2.8e-10, "z": 17}, {"lbl": "N", "p": 87, "q": 1.5e-10, "z": 8}, {"lbl": "= 120 K", "p": 99, "q": 2.8e-10, "z": 17}]},
           "mark": {"type": "text", "fontWeight": "bold", "align": "left", "baseline": "middle", "fill": "black"},
           "encoding": {"text": {"field": "lbl", "type": "nominal"}, "x": {"field": "p", "type": "quantitative"}, "y": {"field": "q", "type": "quantitative"}, "size": {"field": "z", "type": "quantitative", "scale": null}}}
        ]
      }
    ],
    "resolve": {"scale": {"x": "independent", "y": "independent"}}
  }
]
}
